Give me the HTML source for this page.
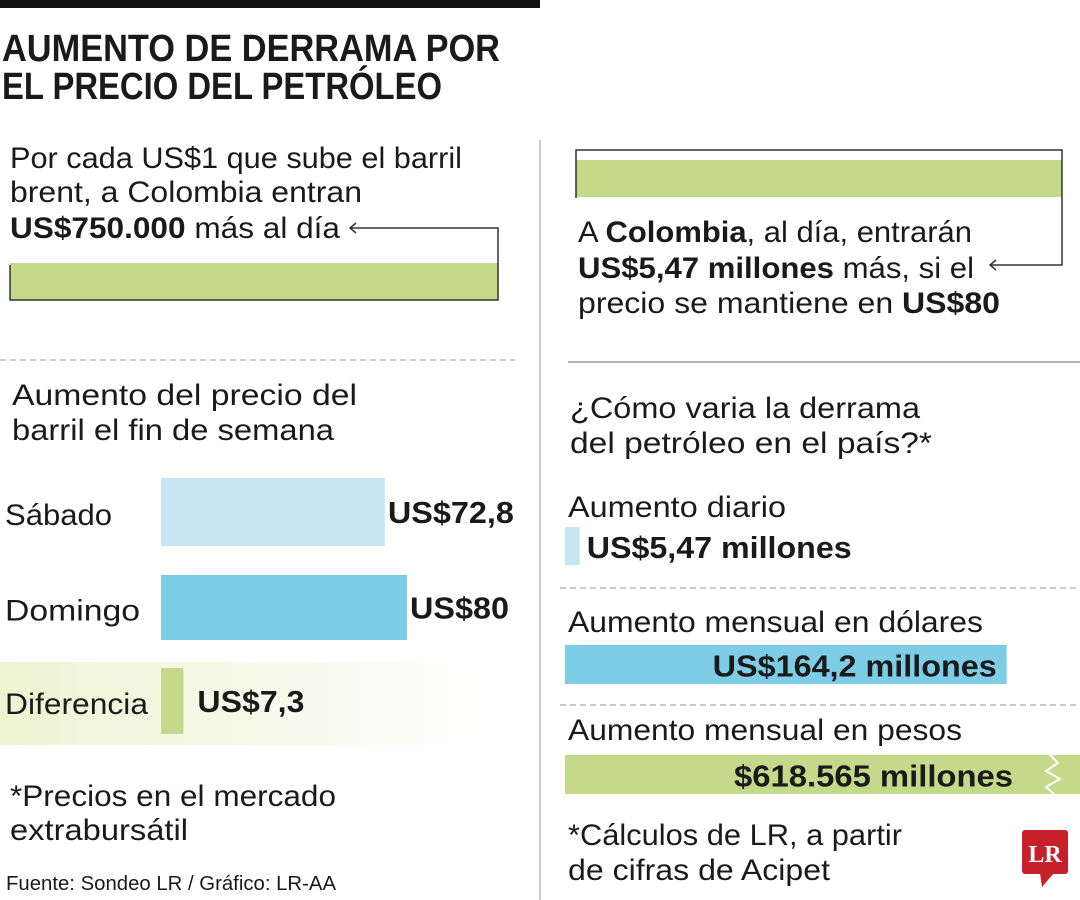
<!DOCTYPE html>
<html><head><meta charset="utf-8"><style>
html,body{margin:0;padding:0;background:#fff;}
svg{display:block;font-family:"Liberation Sans",sans-serif;}
.t{font-size:30px;fill:#1a1a1a;}
.b{font-weight:bold;}
</style></head><body>
<svg id="chart" width="1080" height="900" viewBox="0 0 1080 900">
<rect x="0" y="0" width="540" height="8" fill="#111"/>
<text x="2" y="61" class="b" font-size="38" fill="#1a1a1a" textLength="498" lengthAdjust="spacingAndGlyphs">AUMENTO DE DERRAMA POR</text>
<text x="2" y="99" class="b" font-size="38" fill="#1a1a1a" textLength="440" lengthAdjust="spacingAndGlyphs">EL PRECIO DEL PETRÓLEO</text>
<line x1="540" y1="140" x2="540" y2="900" stroke="#bbb" stroke-width="1.5"/>

<text x="10" y="168" class="t" textLength="452" lengthAdjust="spacingAndGlyphs">Por cada US$1 que sube el barril</text>
<text x="10" y="202" class="t" textLength="352" lengthAdjust="spacingAndGlyphs">brent, a Colombia entran</text>
<text x="10" y="238" class="t" textLength="330" lengthAdjust="spacingAndGlyphs"><tspan class="b">US$750.000</tspan> más al día</text>
<rect x="10" y="263" width="488" height="37" fill="#c5d98a"/>
<polyline points="350,228 498,228 498,300 10,300 10,265" fill="none" stroke="#333" stroke-width="1.5"/>
<polyline points="356,223 350,228 356,233" fill="none" stroke="#333" stroke-width="1.5"/>
<line x1="0" y1="360" x2="515" y2="360" stroke="#999" stroke-dasharray="6,4"/>

<text x="12" y="405" class="t" textLength="345" lengthAdjust="spacingAndGlyphs">Aumento del precio del</text>
<text x="12" y="440" class="t" textLength="322" lengthAdjust="spacingAndGlyphs">barril el fin de semana</text>

<defs><linearGradient id="fade" x1="0" x2="1"><stop offset="0" stop-color="#eef3d2"/><stop offset="1" stop-color="#fff"/></linearGradient></defs>
<rect x="0" y="662" width="490" height="83" fill="url(#fade)"/>
<g id="leftBars"></g>

<text x="10" y="806" class="t" textLength="326" lengthAdjust="spacingAndGlyphs">*Precios en el mercado</text>
<text x="10" y="840" class="t" textLength="178" lengthAdjust="spacingAndGlyphs">extrabursátil</text>
<text x="6" y="890" font-size="20" fill="#1a1a1a" textLength="330" lengthAdjust="spacingAndGlyphs">Fuente: Sondeo LR / Gráfico: LR-AA</text>

<rect x="576" y="160" width="486" height="37" fill="#c5d98a"/>
<polyline points="576,198 576,150 1062,150 1062,265 990,265" fill="none" stroke="#333" stroke-width="1.5"/>
<polyline points="996,260 990,265 996,270" fill="none" stroke="#333" stroke-width="1.5"/>
<text x="578" y="242" class="t" textLength="394" lengthAdjust="spacingAndGlyphs">A <tspan class="b">Colombia</tspan>, al día, entrarán</text>
<text x="578" y="278" class="t" textLength="396" lengthAdjust="spacingAndGlyphs"><tspan class="b">US$5,47 millones</tspan> más, si el</text>
<text x="578" y="313" class="t" textLength="422" lengthAdjust="spacingAndGlyphs">precio se mantiene en <tspan class="b">US$80</tspan></text>
<line x1="568" y1="362" x2="1080" y2="362" stroke="#999" stroke-width="1.5"/>

<text x="570" y="418" class="t" textLength="350" lengthAdjust="spacingAndGlyphs">¿Cómo varia la derrama</text>
<text x="570" y="453" class="t" textLength="362" lengthAdjust="spacingAndGlyphs">del petróleo en el país?*</text>
<g id="rightBars"></g>
<line x1="560" y1="588" x2="1080" y2="588" stroke="#999" stroke-dasharray="6,4"/>
<line x1="560" y1="705" x2="1080" y2="705" stroke="#999" stroke-dasharray="6,4"/>

<text x="568" y="845" class="t" textLength="334" lengthAdjust="spacingAndGlyphs">*Cálculos de LR, a partir</text>
<text x="568" y="880" class="t" textLength="262" lengthAdjust="spacingAndGlyphs">de cifras de Acipet</text>
<g>
<rect x="1022" y="830" width="46" height="44" rx="3" fill="#c8202a"/>
<polygon points="1040,873 1054,873 1042,887" fill="#c8202a"/>
<text x="1045" y="862" text-anchor="middle" font-family="Liberation Serif,serif" font-weight="bold" font-size="24" fill="#fff">LR</text>
</g>
</svg>
<script>
const ns="http://www.w3.org/2000/svg";
const leftLabels=["Sábado","Domingo","Diferencia"];
const leftValues=[72.8,80,7.3];
const leftValueText=["US$72,8","US$80","US$7,3"];
const rightLabels=["Aumento diario","Aumento mensual en dólares","Aumento mensual en pesos"];
const rightValues=[5.47,164.2,618565];
const rightValueText=["US$5,47 millones","US$164,2 millones","$618.565 millones"];

// layout-only text widths (pixels)
const leftLabelW=[107,135,143];
const leftValueW=[126,99,107];
const rightLabelW=[218,415,394];
const rightValueW=[265,284,279];

function mk(tag,attrs,parent){const e=document.createElementNS(ns,tag);for(const k in attrs)e.setAttribute(k,attrs[k]);parent.appendChild(e);return e;}
const lx=v=>161+v*3.075;
const lg=document.getElementById('leftBars');
const lColors=["#c8e6f2","#7ecde6","#c5d98a"];
const lRows=[{y:478,h:68},{y:575,h:65},{y:668,h:66}];
leftValues.forEach((v,i)=>{
  const r=lRows[i];
  const lab=mk('text',{x:5,y:r.y+r.h/2+13,'font-size':30,fill:'#1a1a1a',textLength:leftLabelW[i],lengthAdjust:'spacingAndGlyphs'},lg);
  lab.textContent=leftLabels[i];
  
  
  const b=mk('rect',{x:161,y:r.y,width:lx(v)-161,height:r.h,fill:lColors[i]},lg);
  
  
  const t=mk('text',{x:lx(v)+(i==2?14:3),y:r.y+r.h/2+11,'font-size':31,'font-weight':'bold',fill:'#1a1a1a',textLength:leftValueW[i],lengthAdjust:'spacingAndGlyphs'},lg);
  t.textContent=leftValueText[i];
  
  
});
const rg=document.getElementById('rightBars');
const rx=v=>Math.min(565+v*2.69,1080);
const rRows=[{ly:517,y:527,h:38},{ly:632,y:645,h:39},{ly:740,y:755,h:39}];
const rColors=["#c8e6f2","#7ecde6","#c5d98a"];
rightValues.forEach((v,i)=>{
  const r=rRows[i];
  const lab=mk('text',{x:568,y:r.ly,'font-size':30,fill:'#1a1a1a',textLength:rightLabelW[i],lengthAdjust:'spacingAndGlyphs'},rg);
  lab.textContent=rightLabels[i];
  
  
  const end=rx(v);
  const b=mk('rect',{x:565,y:r.y,width:end-565,height:r.h,fill:rColors[i]},rg);
  
  
  let tx,anchor;
  if(end-565<100){tx=end+7;anchor='start';}else{tx=(end>=1080?1013:end-10);anchor='end';}
  const t=mk('text',{x:tx,y:r.y+r.h/2+12,'font-size':31,'font-weight':'bold',fill:'#1a1a1a','text-anchor':anchor,textLength:rightValueW[i],lengthAdjust:'spacingAndGlyphs'},rg);
  t.textContent=rightValueText[i];
  
  
  if(end>=1080){
    const z=mk('polyline',{points:`1050,${r.y} 1058,${r.y+8} 1046,${r.y+16} 1060,${r.y+24} 1046,${r.y+32} 1054,${r.y+r.h}`,fill:'none',stroke:'#fff','stroke-width':2},rg);
    
    
  }
});
</script>
</body></html>
